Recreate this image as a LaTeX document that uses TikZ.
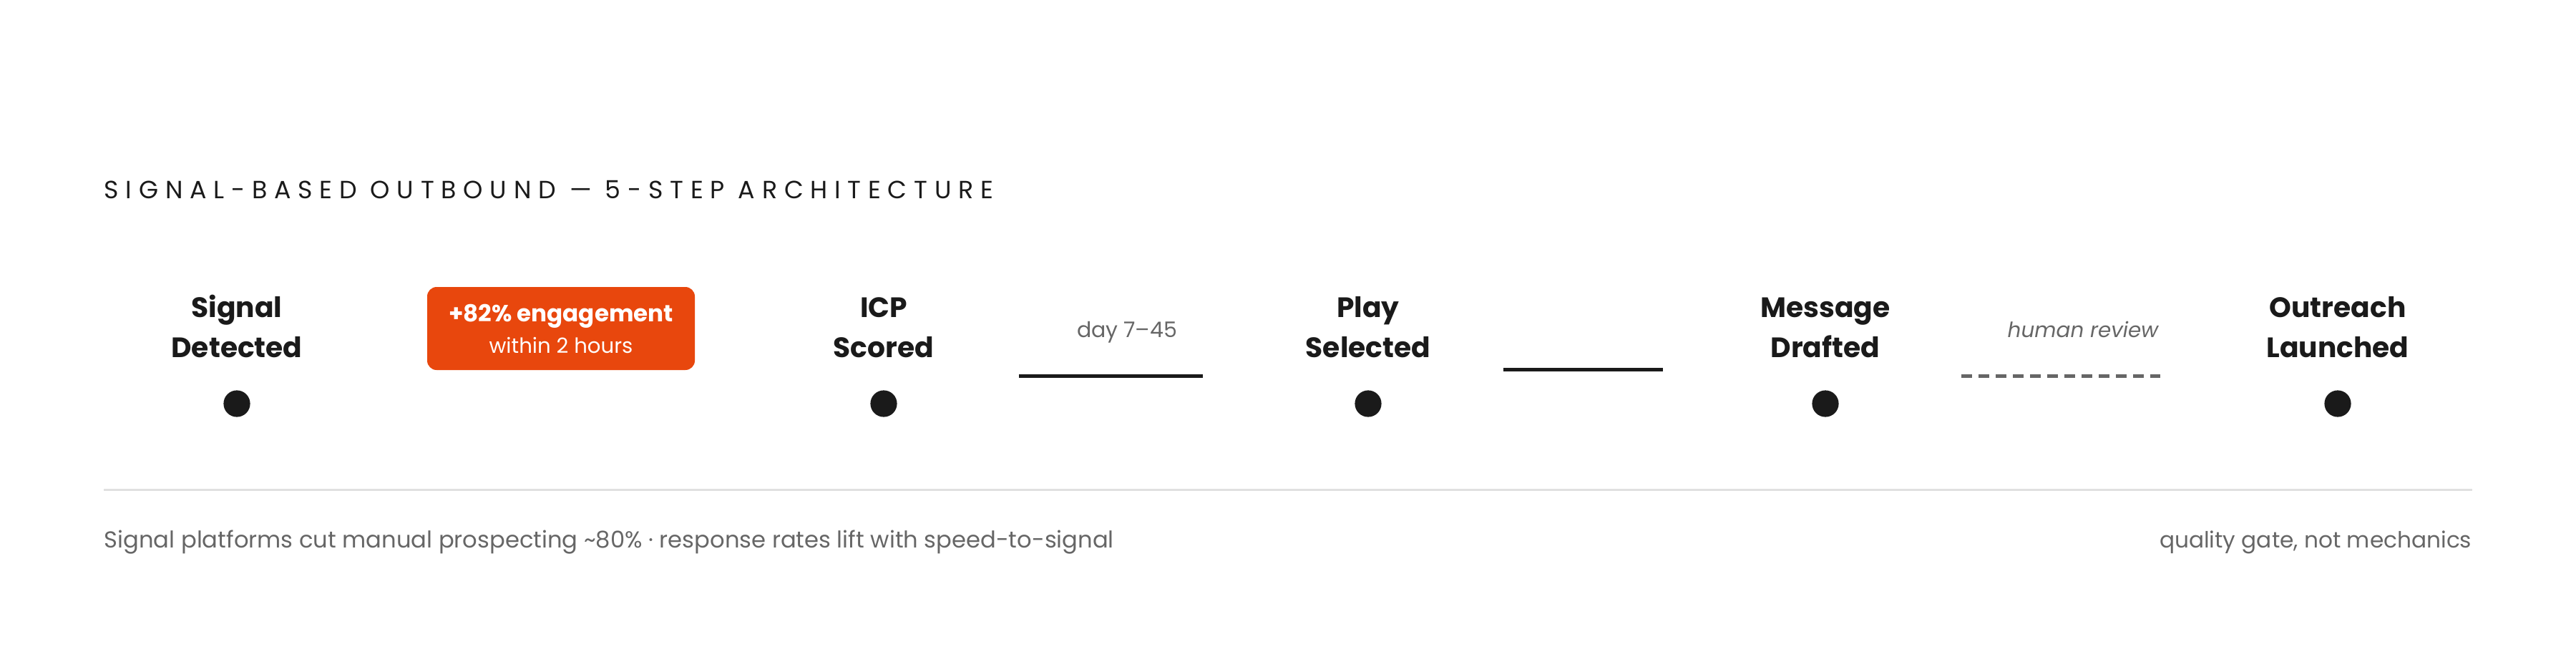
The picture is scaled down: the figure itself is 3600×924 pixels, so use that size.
\documentclass[tikz,border=0pt]{standalone}
\usepackage{fontspec}
\setmainfont{Poppins}
\newfontfamily\titlefont[LetterSpace=28]{Poppins}
\definecolor{ink}{HTML}{1A1A1A}
\definecolor{muted}{HTML}{666666}
\definecolor{accent}{HTML}{E8470D}
\definecolor{hairline}{HTML}{E0E0E0}
\tikzset{stage/.style={font=\bfseries\fontsize{9.8}{14}\selectfont, text=ink, align=center, inner sep=0pt, anchor=base}}
\tikzset{stagedot/.style={circle, fill=ink, minimum size=9.3pt, inner sep=0pt}}
\tikzset{note/.style={font=\fontsize{7.5}{9}\selectfont, text=muted, inner sep=0pt, anchor=base}}
\tikzset{link/.style={draw=ink, line width=1.25pt}}
\tikzset{gate/.style={draw=muted, line width=1.25pt, dash pattern=on 3.75pt off 2.25pt}}

\begin{document}
\begin{tikzpicture}[x=0.25pt, y=-0.25pt]
   \useasboundingbox (0,0) rectangle (3600,924);
   \node[font=\titlefont\fontsize{8.7}{10}\selectfont, text=ink, inner sep=0pt, anchor=base west] (title) at (145,277) {SIGNAL-BASED OUTBOUND — 5-STEP ARCHITECTURE};
   \node[stage] (signal) at (331,499) {Signal\\Detected};
   \node[stage] (icp) at (1235,499) {ICP\\Scored};
   \node[stage] (play) at (1912,499) {Play\\Selected};
   \node[stage] (message) at (2551,499) {Message\\Drafted};
   \node[stage] (outreach) at (3267,499) {Outreach\\Launched};
   \node[stagedot] (dsignal) at (331,564) {};
   \node[stagedot] (dicp) at (1235,564) {};
   \node[stagedot] (dplay) at (1912,564) {};
   \node[stagedot] (dmessage) at (2551,564) {};
   \node[stagedot] (doutreach) at (3267,564) {};
   \node[fill=accent, rounded corners=3.3pt, minimum width=93.5pt, minimum height=29pt, inner sep=0pt, text=white, align=center] (lift) at (784,459)
      {{\bfseries\fontsize{8.15}{11}\selectfont +82\% engagement}\\[-1pt]{\fontsize{7.3}{11}\selectfont within 2 hours}};
   \node[note] (window) at (1575,471) {day 7–45};
   \node[note, font=\itshape\fontsize{7.35}{9}\selectfont] (review) at (2911,471) {human review};
   \coordinate (w1) at (1424,525.5);
   \coordinate (w2) at (1681,525.5);
   \coordinate (p1) at (2101,516.5);
   \coordinate (p2) at (2324,516.5);
   \coordinate (r1) at (2741,525.5);
   \coordinate (r2) at (3019,525.5);
   \draw[link] (w1) -- (w2);
   \draw[link] (p1) -- (p2);
   \draw[gate] (r1) -- (r2);
   \coordinate (h1) at (145,684);
   \coordinate (h2) at (3455,684);
   \draw[draw=hairline, line width=0.75pt] (h1) -- (h2);
   \node[note, font=\fontsize{8.05}{9}\selectfont, anchor=base west] (source) at (145,765) {Signal platforms cut manual prospecting \textasciitilde 80\% · response rates lift with speed-to-signal};
   \node[note, font=\fontsize{7.8}{9}\selectfont, anchor=base east] (caveat) at (3455,765) {quality gate, not mechanics};
\end{tikzpicture}
\end{document}
